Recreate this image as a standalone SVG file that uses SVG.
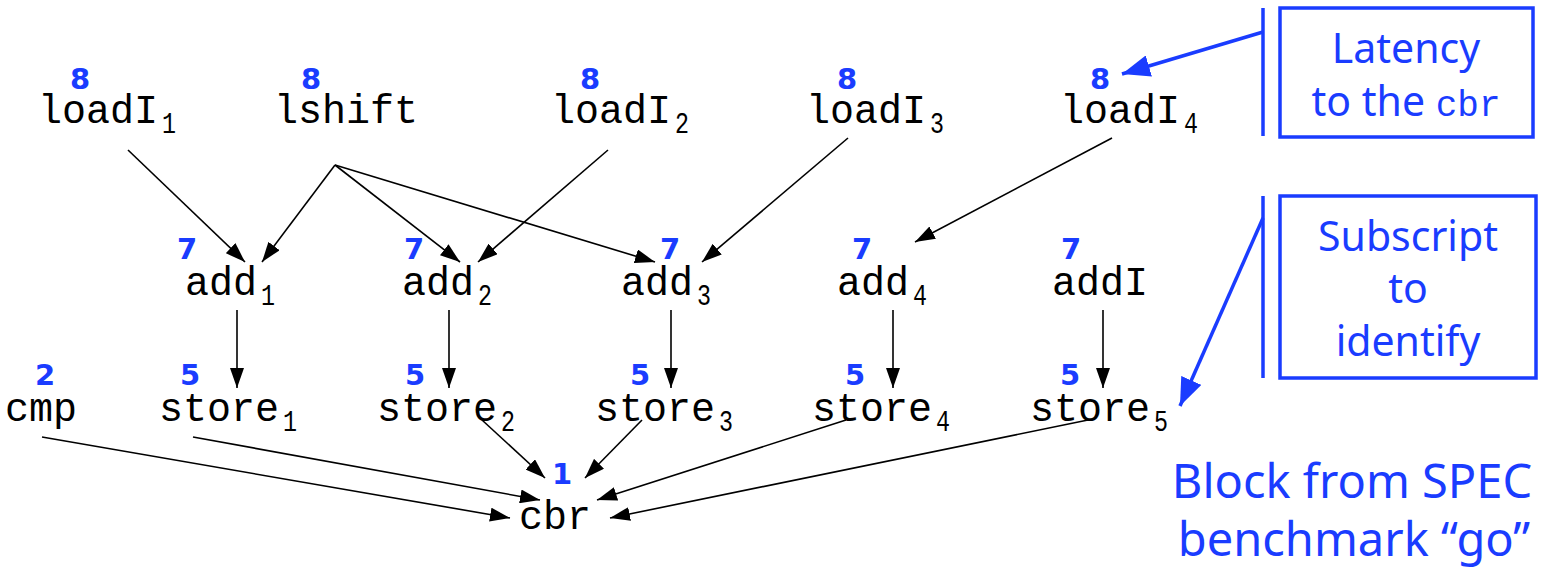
<svg xmlns="http://www.w3.org/2000/svg" width="1553" height="568" viewBox="0 0 1553 568">
  <style>
    .op { font-family: "Liberation Mono", "Courier New", monospace; font-size: 40px; fill: #000; }
    .sub { font-size: 30px; }
    .lat { font-family: "DejaVu Sans", Verdana, sans-serif; font-size: 29px; font-weight: bold; fill: #1a3cff; text-anchor: middle; }
    .edge { stroke: #000; stroke-width: 1.6; fill: none; marker-end: url(#arrow); }
    .note { font-family: "Comic Sans MS", "Noto Sans", sans-serif; font-size: 41px; fill: #1a3cff; text-anchor: middle; }
    .big { font-size: 47px; }
    .box { fill: none; stroke: #1a3cff; stroke-width: 3.5; }
    .pointer { stroke: #1a3cff; stroke-width: 3.5; fill: none; marker-end: url(#bigArrow); }
  </style>
  <defs>
    <marker id="arrow" viewBox="0 0 20 14" refX="20" refY="7" markerWidth="20" markerHeight="14" markerUnits="userSpaceOnUse" orient="auto">
      <path d="M0,0 L20,7 L0,14 Z" fill="#000"/>
    </marker>
    <marker id="bigArrow" viewBox="0 0 28 22" refX="28" refY="11" markerWidth="28" markerHeight="22" markerUnits="userSpaceOnUse" orient="auto">
      <path d="M0,0 L28,11 L0,22 Z" fill="#1a3cff"/>
    </marker>
  </defs>
  <rect width="1553" height="568" fill="#fff"/>

  <!-- dependence edges -->
  <g id="edges">
    <line class="edge" x1="128" y1="150" x2="245" y2="262"/>
    <line class="edge" x1="335" y1="165" x2="262" y2="262"/>
    <line class="edge" x1="335" y1="165" x2="460" y2="262"/>
    <line class="edge" x1="335" y1="165" x2="655" y2="262"/>
    <line class="edge" x1="608" y1="150" x2="478" y2="262"/>
    <line class="edge" x1="848" y1="138" x2="702" y2="262"/>
    <line class="edge" x1="1112" y1="138" x2="915" y2="242"/>
    <line class="edge" x1="237" y1="310" x2="237" y2="388"/>
    <line class="edge" x1="449" y1="310" x2="449" y2="388"/>
    <line class="edge" x1="671" y1="310" x2="671" y2="388"/>
    <line class="edge" x1="893" y1="310" x2="893" y2="388"/>
    <line class="edge" x1="1103" y1="310" x2="1103" y2="388"/>
    <line class="edge" x1="42" y1="437" x2="510" y2="518"/>
    <line class="edge" x1="193" y1="437" x2="540" y2="500"/>
    <line class="edge" x1="482" y1="420" x2="545" y2="478"/>
    <line class="edge" x1="642" y1="420" x2="585" y2="478"/>
    <line class="edge" x1="846" y1="420" x2="597" y2="500"/>
    <line class="edge" x1="1088" y1="420" x2="610" y2="518"/>
  </g>

  <!-- top row -->
  <g id="loadI1"><text class="lat" x="80" y="89">8</text><text class="op" x="38" y="123">loadI<tspan class="sub" dx="4" dy="10" textLength="14" lengthAdjust="spacingAndGlyphs">1</tspan></text></g>
  <g id="lshift"><text class="lat" x="311" y="89">8</text><text class="op" x="274" y="123">lshift</text></g>
  <g id="loadI2"><text class="lat" x="590" y="89">8</text><text class="op" x="551" y="123">loadI<tspan class="sub" dx="4" dy="10" textLength="14" lengthAdjust="spacingAndGlyphs">2</tspan></text></g>
  <g id="loadI3"><text class="lat" x="847" y="89">8</text><text class="op" x="806" y="123">loadI<tspan class="sub" dx="4" dy="10" textLength="14" lengthAdjust="spacingAndGlyphs">3</tspan></text></g>
  <g id="loadI4"><text class="lat" x="1100" y="89">8</text><text class="op" x="1060" y="123">loadI<tspan class="sub" dx="4" dy="10" textLength="14" lengthAdjust="spacingAndGlyphs">4</tspan></text></g>

  <!-- add row -->
  <g id="add1"><text class="lat" x="187" y="259">7</text><text class="op" x="185" y="295">add<tspan class="sub" dx="4" dy="10" textLength="14" lengthAdjust="spacingAndGlyphs">1</tspan></text></g>
  <g id="add2"><text class="lat" x="414" y="259">7</text><text class="op" x="402" y="295">add<tspan class="sub" dx="4" dy="10" textLength="14" lengthAdjust="spacingAndGlyphs">2</tspan></text></g>
  <g id="add3"><text class="lat" x="670" y="259">7</text><text class="op" x="621" y="295">add<tspan class="sub" dx="4" dy="10" textLength="14" lengthAdjust="spacingAndGlyphs">3</tspan></text></g>
  <g id="add4"><text class="lat" x="862" y="259">7</text><text class="op" x="837" y="295">add<tspan class="sub" dx="4" dy="10" textLength="14" lengthAdjust="spacingAndGlyphs">4</tspan></text></g>
  <g id="addI"><text class="lat" x="1071" y="259">7</text><text class="op" x="1052" y="295">addI</text></g>

  <!-- store row -->
  <g id="cmp"><text class="lat" x="45" y="385">2</text><text class="op" x="5" y="421">cmp</text></g>
  <g id="store1"><text class="lat" x="190" y="385">5</text><text class="op" x="159" y="421">store<tspan class="sub" dx="4" dy="10" textLength="14" lengthAdjust="spacingAndGlyphs">1</tspan></text></g>
  <g id="store2"><text class="lat" x="415" y="385">5</text><text class="op" x="377" y="421">store<tspan class="sub" dx="4" dy="10" textLength="14" lengthAdjust="spacingAndGlyphs">2</tspan></text></g>
  <g id="store3"><text class="lat" x="640" y="385">5</text><text class="op" x="595" y="421">store<tspan class="sub" dx="4" dy="10" textLength="14" lengthAdjust="spacingAndGlyphs">3</tspan></text></g>
  <g id="store4"><text class="lat" x="855" y="385">5</text><text class="op" x="812" y="421">store<tspan class="sub" dx="4" dy="10" textLength="14" lengthAdjust="spacingAndGlyphs">4</tspan></text></g>
  <g id="store5"><text class="lat" x="1070" y="385">5</text><text class="op" x="1030" y="421">store<tspan class="sub" dx="4" dy="10" textLength="14" lengthAdjust="spacingAndGlyphs">5</tspan></text></g>

  <!-- branch -->
  <g id="cbr"><text class="lat" x="562" y="484">1</text><text class="op" x="519" y="529">cbr</text></g>

  <!-- callouts -->
  <g id="latency-note">
    <line x1="1263" y1="8" x2="1263" y2="136" stroke="#1a3cff" stroke-width="3.5"/>
    <rect class="box" x="1280" y="8" width="253" height="129"/>
    <text class="note" x="1406" y="63">Latency</text>
    <text class="note" x="1406" y="116">to the <tspan style="font-family: 'Liberation Mono', 'Courier New', monospace; font-size: 36px">cbr</tspan></text>
    <line class="pointer" x1="1263" y1="32" x2="1122" y2="74"/>
  </g>
  <g id="subscript-note">
    <line x1="1263" y1="196" x2="1263" y2="378" stroke="#1a3cff" stroke-width="3.5"/>
    <rect class="box" x="1280" y="196" width="256" height="182"/>
    <text class="note" x="1408" y="251">Subscript</text>
    <text class="note" x="1408" y="303">to</text>
    <text class="note" x="1408" y="356">identify</text>
    <line class="pointer" x1="1263" y1="218" x2="1180" y2="406"/>
  </g>
  <g id="source-note">
    <text class="note big" x="1352" y="498">Block from SPEC</text>
    <text class="note big" x="1354" y="556">benchmark “go”</text>
  </g>
</svg>
